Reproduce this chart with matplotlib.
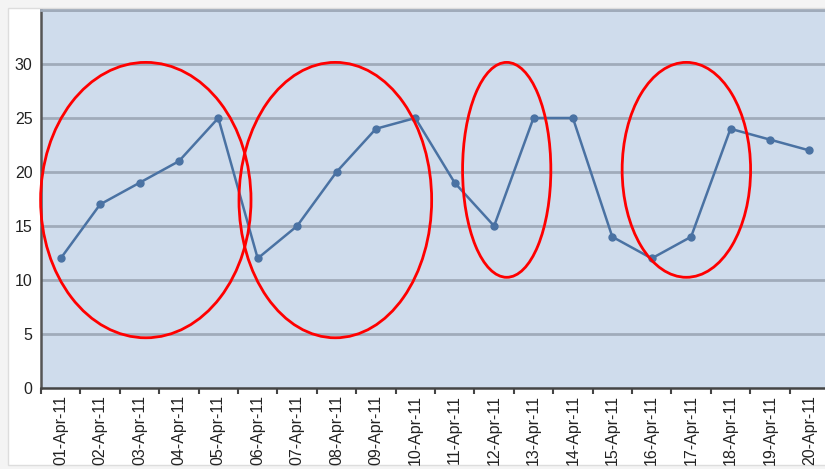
import matplotlib
matplotlib.use("Agg")
import matplotlib.pyplot as plt
from matplotlib.patches import Ellipse, Rectangle
import numpy as np

dates = ["01-Apr-11", "02-Apr-11", "03-Apr-11", "04-Apr-11", "05-Apr-11",
         "06-Apr-11", "07-Apr-11", "08-Apr-11", "09-Apr-11", "10-Apr-11",
         "11-Apr-11", "12-Apr-11", "13-Apr-11", "14-Apr-11", "15-Apr-11",
         "16-Apr-11", "17-Apr-11", "18-Apr-11", "19-Apr-11", "20-Apr-11"]
values = [12, 17, 19, 21, 25, 12, 15, 20, 24, 25,
          19, 15, 25, 25, 14, 12, 14, 24, 23, 22]
y_ticks = [0, 5, 10, 15, 20, 25, 30]

# red circles drawn over the chart: (center x, center y, width, height) in data units
circles = [(2.16, 17.4, 5.34, 25.5),
           (6.97, 17.4, 4.89, 25.5),
           (11.32, 20.2, 2.24, 19.9),
           (15.88, 20.2, 3.26, 19.9)]

plt.rcParams['font.family'] = ['Liberation Sans', 'DejaVu Sans']

fig = plt.figure(figsize=(8.25, 4.69), dpi=100)
fig.patch.set_facecolor("#f4f4f4")
# white card with a faint border around the chart
fig.add_artist(Rectangle((8 / 825, 4 / 469), 830 / 825, 457 / 469, transform=fig.transFigure,
                         fc="white", ec="#dddddd", lw=1, zorder=0))

ax = fig.add_axes([41 / 825, 81 / 469, 788 / 825, 378 / 469])
ax.set_facecolor("#cfdcec")

x = np.arange(len(dates))
ax.plot(x, values, color="#4a72a3", lw=1.8, marker="o", ms=5, zorder=3)

ax.set_xlim(-0.5, len(dates) - 0.5)
ax.set_ylim(0, 35)
ax.set_yticks(y_ticks)
ax.set_xticks(x)
ax.set_xticklabels(dates, rotation=90, fontsize=11.5, color="#222222")
ax.set_xticks(np.arange(len(dates) + 1) - 0.5, minor=True)
ax.tick_params(axis="x", which="major", length=0, pad=5)
ax.tick_params(axis="x", which="minor", length=4, width=1.5, color="#444444")
ax.tick_params(axis="y", length=0, pad=6, labelsize=11.5, labelcolor="#222222")

for yt in y_ticks[1:] + [35]:
    ax.axhline(yt, color="#a0abba", lw=2, zorder=1)

ax.spines["right"].set_visible(False)
ax.spines["top"].set_color("#a0abba")
ax.spines["top"].set_linewidth(2)
ax.spines["left"].set_color("#555555")
ax.spines["left"].set_linewidth(1.8)
ax.spines["bottom"].set_color("#444444")
ax.spines["bottom"].set_linewidth(1.8)

for cx, cy, w, h in circles:
    ax.add_patch(Ellipse((cx, cy), w, h, fill=False, ec="red", lw=2, zorder=4, clip_on=False))

fig.savefig("out.png", dpi=100, facecolor=fig.get_facecolor())
